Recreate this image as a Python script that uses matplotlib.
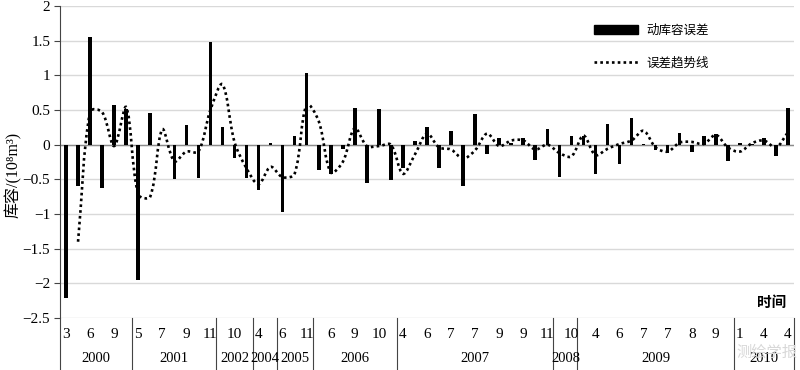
import numpy as np
import matplotlib
matplotlib.use('Agg')
import matplotlib.pyplot as plt
from matplotlib.path import Path
from matplotlib.patches import PathPatch, Patch
from matplotlib.lines import Line2D
import matplotlib.transforms as mtransforms
from matplotlib.ticker import FuncFormatter

plt.rcParams['font.family'] = ['Liberation Serif', 'Noto Sans CJK SC', 'DejaVu Serif']
plt.rcParams['axes.unicode_minus'] = True

# ---------------- data ----------------
years = ['2000', '2001', '2002', '2004', '2005', '2006', '2007', '2008', '2009', '2010']
year_counts = [6, 7, 3, 2, 3, 7, 13, 2, 13, 5]
month_labels = ['3', '', '6', '', '9', '',
                '5', '', '7', '', '9', '', '11',
                '', '10', '',
                '4', '',
                '6', '', '11',
                '', '6', '', '9', '', '10', '',
                '4', '', '6', '', '7', '', '7', '', '9', '', '9', '', '11',
                '', '10',
                '', '4', '', '6', '', '7', '', '7', '', '8', '', '9', '',
                '1', '', '4', '', '4']
error_values = [-2.21, -0.59, 1.55, -0.62, 0.57, 0.52,
                -1.95, 0.45, 0.00, -0.49, 0.29, -0.48, 1.48,
                0.26, -0.19, -0.48,
                -0.66, 0.02,
                -0.97, 0.13, 1.03,
                -0.36, -0.43, -0.06, 0.53, -0.56, 0.52, -0.51,
                -0.33, 0.06, 0.25, -0.33, 0.20, -0.59, 0.44, -0.13, 0.09, 0.02, 0.09, -0.22, 0.23,
                -0.46, 0.12,
                0.13, -0.42, 0.30, -0.28, 0.39, 0.01, -0.08, -0.12, 0.17, -0.10, 0.12, 0.16, -0.23,
                0.03, 0.01, 0.10, -0.17, 0.53]
trend_values = [np.nan, -1.40, 0.48, 0.47, -0.02, 0.54, -0.72, -0.75, 0.22, -0.24,
                -0.10, -0.10, 0.50, 0.87, 0.04, -0.34, -0.57, -0.32, -0.47, -0.42,
                0.58, 0.34, -0.40, -0.25, 0.24, -0.02, -0.02, 0.00, -0.42, -0.14,
                0.16, -0.04, -0.07, -0.20, -0.08, 0.16, -0.02, 0.06, 0.06, -0.07,
                0.00, -0.12, -0.17, 0.13, -0.15, -0.06, 0.01, 0.06, 0.20, -0.04,
                -0.10, 0.03, 0.04, 0.01, 0.14, -0.04, -0.10, 0.02, 0.06, -0.04,
                0.18]
bar_label = '动库容误差'
trend_label = '误差趋势线'
y_label = '库容/(10⁸m³)'
x_label = '时间'

# ---------------- figure ----------------
W, H = 800, 370
ax_left, ax_right, ax_top, ax_bottom = 60, 794, 6, 318
fig = plt.figure(figsize=(W / 100, H / 100), dpi=100)
ax = fig.add_axes([ax_left / W, 1 - ax_bottom / H, (ax_right - ax_left) / W, (ax_bottom - ax_top) / H])

x = np.arange(len(error_values))
ax.bar(x, error_values, width=0.3, color='black', zorder=3)

ax.set_xlim(-0.5, len(error_values) - 0.5)
ax.set_ylim(-2.5, 2)

# smoothed trend line: Bezier segments with length-scaled tangents (screen space)
sx = (ax_right - ax_left) / len(error_values)      # px per category
sy = (ax_bottom - ax_top) / 4.5                     # px per unit
xs = x[1:].astype(float)
ys = np.array(trend_values[1:], dtype=float)
P = np.column_stack([xs * sx, ys * sy])
n = len(P)
def seglen(a, b):
    return np.hypot(*(P[b] - P[a]))
verts = [tuple(P[0])]
codes = [Path.MOVETO]
for k in range(n - 1):
    k0, k3 = max(k - 1, 0), min(k + 2, n - 1)
    L01, L12, L23 = seglen(k0, k), seglen(k, k + 1), seglen(k + 1, k3)
    c1 = P[k] + (P[k + 1] - P[k0]) / 3 * L12 / max(L01 + L12, 1e-9)
    c2 = P[k + 1] - (P[k3] - P[k]) / 3 * L12 / max(L12 + L23, 1e-9)
    verts += [tuple(c1), tuple(c2), tuple(P[k + 1])]
    codes += [Path.CURVE4] * 3
verts = [(vx / sx, vy / sy) for vx, vy in verts]
patch = PathPatch(Path(verts, codes), fill=False, edgecolor='black', lw=1.9,
                  linestyle=(0, (1, 1.2)), capstyle='butt', zorder=4)
ax.add_patch(patch)

ax.set_yticks(np.arange(-2.5, 2.01, 0.5))
ax.yaxis.set_major_formatter(FuncFormatter(lambda v, p: f'{v:g}'.replace('-', '\u2212')))
ax.set_xticks([])
ax.tick_params(axis='y', length=4, width=0.8, color='#444', labelsize=11, pad=3)
ax.yaxis.grid(True, color='#d9d9d9', lw=1)
ax.set_axisbelow(True)
ax.axhline(0, color='#8c8c8c', lw=1, zorder=2)
for s in ['top', 'right', 'bottom']:
    ax.spines[s].set_visible(False)
ax.spines['left'].set_color('#444')
ax.spines['left'].set_linewidth(0.8)

# category table below the axis
trans = mtransforms.blended_transform_factory(ax.transData, ax.transAxes)
axh = ax_bottom - ax_top
for i, lab in enumerate(month_labels):
    if lab:
        ax.text(i, -16 / axh, lab, transform=trans, ha='center', va='center', fontsize=11)
bottom = -(H - ax_bottom) / axh
start = 0
boundaries = [-0.5]
for yr, cnt in zip(years, year_counts):
    ax.text(start + (cnt - 1) / 2, -40 / axh, yr, transform=trans, ha='center', va='center', fontsize=10.5)
    start += cnt
    boundaries.append(start - 0.5)
for b in boundaries:
    ax.add_line(Line2D([b, b], [bottom, 0], transform=trans, color='#444', lw=0.8, clip_on=False))

# axis labels
fig.text(13 / W, 1 - 175 / H, y_label, rotation=90, ha='center', va='center', fontsize=11.5)
fig.text(786 / W, 1 - 303 / H, x_label, ha='right', va='center', fontsize=10.5, fontweight='bold')

# legend
handles = [Patch(facecolor='black', edgecolor='black'),
           Line2D([], [], color='black', lw=1.9, linestyle=(0, (1, 1.2)))]
fig.legend(handles, [bar_label, trend_label], loc='upper left',
           bbox_to_anchor=(594 / W, 1 - 25 / H), frameon=False, fontsize=9,
           handlelength=3.5, handleheight=0.7, handletextpad=0.7, labelspacing=1.6,
           borderpad=0, borderaxespad=0)

# watermark
fig.text(797 / W, 1 - 352 / H, '测绘学报', ha='right', va='center', fontsize=11,
         color='#d8d8d8', family=['Noto Sans CJK SC'])

fig.savefig('out.png', dpi=100)
